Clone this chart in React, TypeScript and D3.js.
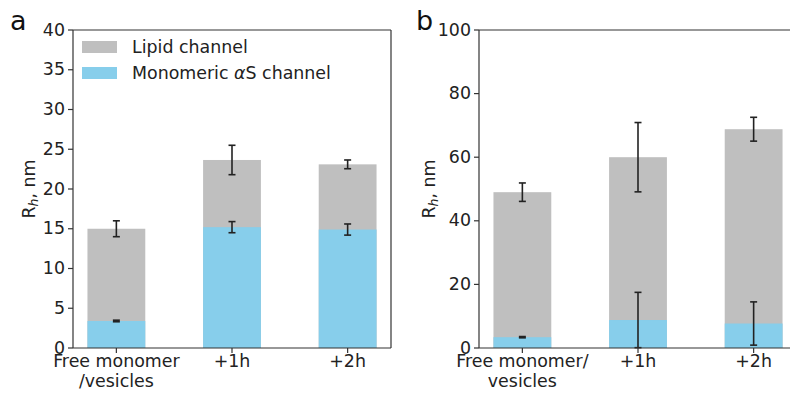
import React from "react";
import * as d3 from "d3";

const labelsA: string[][] = [["Free monomer", "/vesicles"], ["+1h"], ["+2h"]];
const labelsB: string[][] = [["Free monomer/", "vesicles"], ["+1h"], ["+2h"]];

const lipidA = [15.0, 23.65, 23.1];
const lipidErrA = [1.0, 1.85, 0.55];
const monoA = [3.4, 15.2, 14.9];
const monoErrA = [0.1, 0.7, 0.7];

const lipidB = [49.0, 60.0, 68.8];
const lipidErrB = [2.9, 10.9, 3.75];
const monoB = [3.4, 8.8, 7.7];
const monoErrB = [0.2, 8.7, 6.8];

const ticksA = [0, 5, 10, 15, 20, 25, 30, 35, 40];
const ticksB = [0, 20, 40, 60, 80, 100];

const legendLabels = ["Lipid channel", "Monomeric "];

const GRAY = "#bfbfbf";
const BLUE = "#87ceeb";
const FONT = "DejaVu Sans";
const FS = 17.4;

type PanelProps = {
  left: number;
  letter: string;
  labels: string[][];
  lipid: number[];
  lipidErr: number[];
  mono: number[];
  monoErr: number[];
  yMax: number;
  ticks: number[];
  legend: boolean;
  ylabelOffset: number;
};

function Panel(p: PanelProps) {
  const top = 30;
  const bottom = 348;
  const width = 318;
  const x = d3.scaleLinear().domain([-0.375, 2.375]).range([p.left, p.left + width]);
  const y = d3.scaleLinear().domain([0, p.yMax]).range([bottom, top]);
  const bw = x(0.5) - x(0);
  const idx = d3.range(p.lipid.length);
  const errBar = (i: number, v: number, e: number, key: string) => {
    const cx = x(i);
    return (
      <g key={key} stroke="#222" strokeWidth={1.6}>
        <line x1={cx} x2={cx} y1={y(v - e)} y2={y(v + e)} />
        <line x1={cx - 3.5} x2={cx + 3.5} y1={y(v - e)} y2={y(v - e)} />
        <line x1={cx - 3.5} x2={cx + 3.5} y1={y(v + e)} y2={y(v + e)} />
      </g>
    );
  };
  return (
    <g fontFamily={FONT}>
      {idx.map((i) => (
        <rect key={"l" + i} x={x(i) - bw / 2} width={bw} y={y(p.lipid[i])} height={y(0) - y(p.lipid[i])} fill={GRAY} />
      ))}
      {idx.map((i) => (
        <rect key={"m" + i} x={x(i) - bw / 2} width={bw} y={y(p.mono[i])} height={y(0) - y(p.mono[i])} fill={BLUE} />
      ))}
      {idx.map((i) => errBar(i, p.lipid[i], p.lipidErr[i], "el" + i))}
      {idx.map((i) => errBar(i, p.mono[i], p.monoErr[i], "em" + i))}
      {/* spines */}
      <g stroke="#333" strokeWidth={1.2} fill="none">
        <line x1={p.left} x2={p.left} y1={top} y2={bottom} />
        <line x1={p.left} x2={p.left + width} y1={bottom} y2={bottom} />
        <line x1={p.left} x2={p.left + width} y1={top} y2={top} />
        <line x1={p.left + width} x2={p.left + width} y1={top} y2={bottom} />
      </g>
      {/* y ticks */}
      {p.ticks.map((t) => (
        <g key={"yt" + t}>
          <line x1={p.left - 5} x2={p.left} y1={y(t)} y2={y(t)} stroke="#333" strokeWidth={1.2} />
          <text x={p.left - 8} y={y(t) + 5.5} textAnchor="end" fontSize={FS} fill="#222">
            {t}
          </text>
        </g>
      ))}
      {/* x ticks */}
      {idx.map((i) => (
        <g key={"xt" + i}>
          <line x1={x(i)} x2={x(i)} y1={bottom} y2={bottom + 5} stroke="#333" strokeWidth={1.2} />
          {p.labels[i].map((s, j) => (
            <text key={j} x={x(i)} y={367 + j * 19.5} textAnchor="middle" fontSize={FS} fill="#222">
              {s}
            </text>
          ))}
        </g>
      ))}
      {/* y label */}
      <text
        transform={`translate(${p.left - p.ylabelOffset},${(top + bottom) / 2}) rotate(-90)`}
        textAnchor="middle"
        fontSize={FS}
        fill="#222"
      >
        R
        <tspan fontStyle="italic" fontSize={12.5} dy={3}>h</tspan>
        <tspan dy={-3}>, nm</tspan>
      </text>
      {/* panel letter */}
      <text x={p.left - 63} y={30} fontSize={27} fill="#111">
        {p.letter}
      </text>
      {p.legend && (
        <g>
          <rect x={82} y={41} width={35} height={12} fill={GRAY} />
          <rect x={82} y={67} width={35} height={12} fill={BLUE} />
          <text x={132} y={53} fontSize={FS} fill="#222">
            {legendLabels[0]}
          </text>
          <text x={132} y={79} fontSize={FS} fill="#222">
            {legendLabels[1]}
            <tspan fontStyle="italic">α</tspan>S channel
          </text>
        </g>
      )}
    </g>
  );
}

export default function App() {
  return (
    <svg
      width={790}
      height={396}
      style={{ position: "absolute", left: 0, top: 0, background: "#fff" }}
    >
      <rect width={790} height={396} fill="#fff" />
      <Panel
        left={73}
        letter="a"
        labels={labelsA}
        lipid={lipidA}
        lipidErr={lipidErrA}
        mono={monoA}
        monoErr={monoErrA}
        yMax={40}
        ticks={ticksA}
        legend={true}
        ylabelOffset={38}
      />
      <Panel
        left={479}
        letter="b"
        labels={labelsB}
        lipid={lipidB}
        lipidErr={lipidErrB}
        mono={monoB}
        monoErr={monoErrB}
        yMax={100}
        ticks={ticksB}
        legend={false}
        ylabelOffset={44}
      />
    </svg>
  );
}
